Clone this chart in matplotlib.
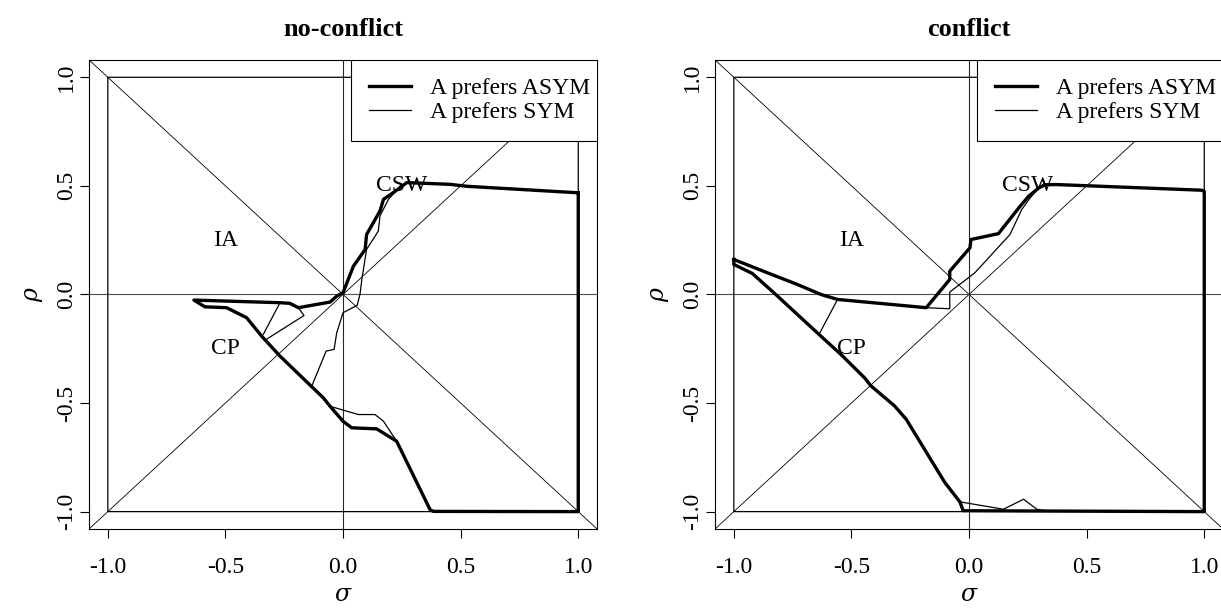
import numpy as np
import matplotlib
matplotlib.use("Agg")
import matplotlib.pyplot as plt

plt.rcParams['font.family'] = ['Liberation Serif', 'DejaVu Serif']
plt.rcParams['mathtext.fontset'] = 'dejavuserif'

nan = np.nan

# boundaries: sigma (x) and rho (y), NaN breaks segments
# --- no-conflict ---
nc_asym_x = [1.0, 1.0, 0.384, 0.37, 0.228, 0.143, 0.037, 0.0, -0.055, -0.084, -0.268,
             -0.346, -0.41, -0.495, -0.587, -0.634, -0.268, -0.226, -0.19, -0.055,
             -0.027, 0.0, 0.044, 0.094, 0.1, 0.157, 0.172, 0.214, 0.271, 0.455, 0.527, 1.0]
nc_asym_y = [0.468, -1.0, -0.999, -0.991, -0.676, -0.619, -0.614, -0.584, -0.515, -0.476, -0.284,
             -0.192, -0.107, -0.061, -0.057, -0.026, -0.038, -0.041, -0.061, -0.035,
             -0.008, 0.008, 0.13, 0.207, 0.276, 0.384, 0.438, 0.469, 0.515, 0.507, 0.498, 0.468]

nc_sym_x = [0.384, -1.0, -1.0, 1.0, 1.0, nan,
            -0.055, 0.065, 0.136, 0.172, 0.228, nan,
            -0.133, -0.072, -0.038, -0.027, 0.0, 0.06, 0.072, 0.08, 0.1, 0.15, 0.157, 0.193, 0.243, 0.271, nan,
            -0.268, -0.339, nan,
            -0.322, -0.166, -0.19]
nc_sym_y = [-1.0, -1.0, 1.0, 1.0, 0.468, nan,
            -0.515, -0.553, -0.553, -0.584, -0.676, nan,
            -0.422, -0.261, -0.253, -0.177, -0.084, -0.05, 0.0, 0.07, 0.207, 0.292, 0.361, 0.438, 0.499, 0.515, nan,
            -0.038, -0.184, nan,
            -0.204, -0.097, -0.061]

# --- conflict ---
c_asym_x = [-1.0, -0.858, -0.73, -0.63, -0.559, -0.182, -0.082, -0.082, 0.004, 0.008, 0.125,
            0.217, 0.253, 0.296, 0.322, 0.372, 0.988, 1.0, 1.0, -0.025, -0.039, -0.103,
            -0.267, -0.317, -0.417, -0.445, -0.545, -0.638, -0.83, -0.922, -1.0, -1.0]
c_asym_y = [0.161, 0.1, 0.046, 0.0, -0.023, -0.061, 0.069, 0.107, 0.215, 0.253, 0.28,
            0.406, 0.452, 0.49, 0.505, 0.506, 0.48, 0.475, -1.0, -0.996, -0.955, -0.866,
            -0.575, -0.513, -0.421, -0.383, -0.276, -0.184, 0.008, 0.097, 0.138, 0.161]

c_sym_x = [-1.0, -1.0, 1.0, 1.0, nan,
           -1.0, -1.0, -0.025, nan,
           -0.039, 0.146, 0.232, 0.288, 0.324, nan,
           -0.559, -0.638, nan,
           -0.182, -0.082, -0.082, 0.025, 0.174, 0.224, 0.26, 0.296]
c_sym_y = [0.161, 1.0, 1.0, 0.475, nan,
           0.138, -1.0, -1.0, nan,
           -0.955, -0.989, -0.943, -0.989, -0.996, nan,
           -0.023, -0.184, nan,
           -0.061, -0.066, 0.011, 0.1, 0.276, 0.391, 0.445, 0.49]

region_names = ['IA', 'CP', 'CSW']
region_x = [-0.5, -0.5, 0.25]
region_y = [0.25, -0.25, 0.5]

panels = [
    ('no-conflict', nc_asym_x, nc_asym_y, nc_sym_x, nc_sym_y),
    ('conflict', c_asym_x, c_asym_y, c_sym_x, c_sym_y),
]
ticks = [-1.0, -0.5, 0.0, 0.5, 1.0]
tick_labels = ['-1.0', '-0.5', '0.0', '0.5', '1.0']

fig = plt.figure(figsize=(12.21, 6.10), dpi=100)
lefts = [0.0729, 0.5856]

for left, (title, ax_, ay_, sx_, sy_) in zip(lefts, panels):
    ax = fig.add_axes([left, 0.1328, 0.4161, 0.769])
    ax.set_xlim(-1.08, 1.08)
    ax.set_ylim(-1.08, 1.08)

    ax.axline((0, 0), slope=1, color='black', lw=0.6, zorder=1)
    ax.axline((0, 0), slope=-1, color='black', lw=0.6, zorder=1)
    ax.axhline(0, color='0.3', lw=0.8, zorder=1)
    ax.axvline(0, color='0.15', lw=0.8, zorder=1)

    ax.plot(ax_, ay_, color='black', lw=2.4, solid_joinstyle='round', label='A prefers ASYM', zorder=3)
    ax.plot(sx_, sy_, color='black', lw=0.9, label='A prefers SYM', zorder=2)

    for name, tx, ty in zip(region_names, region_x, region_y):
        ax.text(tx, ty, name, fontsize=17, ha='center', va='center', zorder=4)

    ax.set_xticks(ticks)
    ax.set_xticklabels(tick_labels)
    ax.set_yticks(ticks)
    ax.set_yticklabels(tick_labels, rotation=90, va='center')
    ax.tick_params(axis='both', labelsize=17, length=6.5, width=0.8, direction='out')
    ax.tick_params(axis='x', pad=14)
    ax.tick_params(axis='y', pad=2)
    for sp in ax.spines.values():
        sp.set_linewidth(0.8)

    ax.set_xlabel(r'$\sigma$', fontsize=17, labelpad=5)
    ax.set_ylabel(r'$\rho$', fontsize=17, labelpad=8)
    ax.set_title(title, fontsize=19, fontweight='bold', pad=17)

    leg = ax.legend(loc='upper left', bbox_to_anchor=(0.516, 0.834, 0.55, 0.166),
                    mode='expand', borderaxespad=0, fancybox=False, framealpha=1,
                    edgecolor='black', fontsize=17, handlelength=1.8, handletextpad=0.8,
                    borderpad=0.75, labelspacing=0.12)
    leg.get_frame().set_linewidth(0.8)
    leg.set_zorder(5)
    for art in [leg.get_frame()] + leg.get_texts() + leg.get_lines():
        art.set_clip_box(ax.bbox)
        art.set_clip_on(True)

fig.savefig('out.png', dpi=100)
